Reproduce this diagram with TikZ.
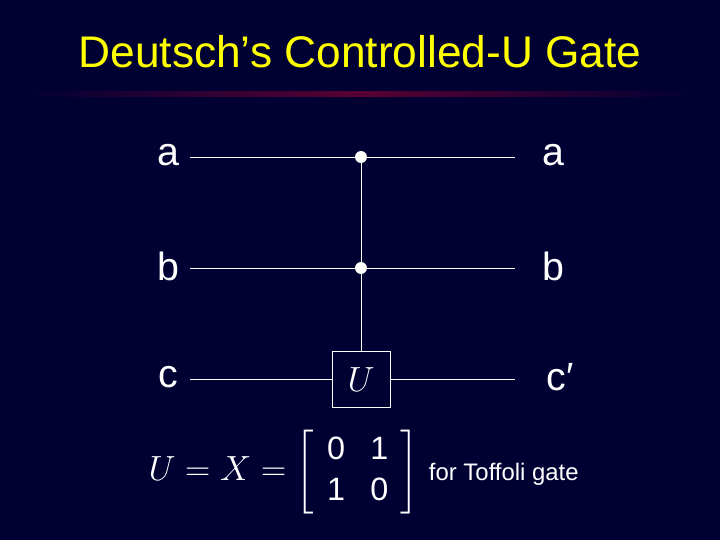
\documentclass[tikz,border=0pt]{standalone}
\usepackage{amsmath}
\usepackage{fontspec}
\setmainfont{Liberation Sans}
\usetikzlibrary{positioning}
\definecolor{bgnavy}{rgb}{0,0,0.2}
\definecolor{titleyellow}{rgb}{1,1,0}
\definecolor{rulered}{rgb}{0.35,0,0.2}
\tikzset{
  wire/.style={draw=white,line width=0.6pt},
  ctrl/.style={circle,fill=white,inner sep=0pt,minimum size=8.5pt},
  lbl/.style={text=white,font=\fontsize{28}{30}\selectfont},
  gatebox/.style={draw=white,fill=bgnavy,line width=0.6pt,minimum width=58*0.025cm,minimum height=56*0.025cm,text=white,font=\fontsize{28}{30}\selectfont}
}
\begin{document}
\begin{tikzpicture}[x=0.025cm,y=-0.025cm]
\fill[bgnavy] (0,0) rectangle (720,540);
\useasboundingbox (0,0) rectangle (720,540);
% title and rule
\node[text=titleyellow,font=\fontsize{31.5}{34}\selectfont] (title) at (360,52) {Deutsch’s Controlled-U Gate};
\shade[left color=bgnavy,right color=rulered,draw=none] (20,91) rectangle (360,96);
\shade[left color=rulered,right color=bgnavy,draw=none] (360,91) rectangle (700,96);
% wire ends
\coordinate (a1) at (190,157);
\coordinate (a2) at (515,157);
\coordinate (b1) at (190,268);
\coordinate (b2) at (515,268);
\coordinate (c1) at (190,379.5);
\coordinate (c2) at (515,379.5);
\node[gatebox] (U) at (361,379.5) {$U$};
\node[ctrl] (dota) at (361,157) {};
\node[ctrl] (dotb) at (361,268) {};
\draw[wire] (a1) -- (a2);
\draw[wire] (b1) -- (b2);
\draw[wire] (c1) -- (U.west);
\draw[wire] (U.east) -- (c2);
\draw[wire] (dota) -- (U.north);
% labels
\node[lbl] (la) at (168,155) {a};
\node[lbl] (lb) at (168,266) {b};
\node[lbl] (lc) at (168,377) {c};
\node[lbl] (ra) at (553,155) {a};
\node[lbl] (rb) at (553,266) {b};
\node[lbl] (rc) at (560,377) {c′};
% matrix
\node[text=white,font=\fontsize{27}{30}\selectfont] (mat) at (284,472)
  {\setlength{\arraycolsep}{9pt}\renewcommand{\arraystretch}{0.95}%
   $U=X=\left[\begin{array}{cc}\text{\fontsize{23}{26}\selectfont 0}&\text{\fontsize{23}{26}\selectfont 1}\\ \text{\fontsize{23}{26}\selectfont 1}&\text{\fontsize{23}{26}\selectfont 0}\end{array}\right]$};
\node[text=white,font=\fontsize{17}{20}\selectfont,anchor=west] (toff) at (424,474) {for Toffoli gate};
\end{tikzpicture}
\end{document}
